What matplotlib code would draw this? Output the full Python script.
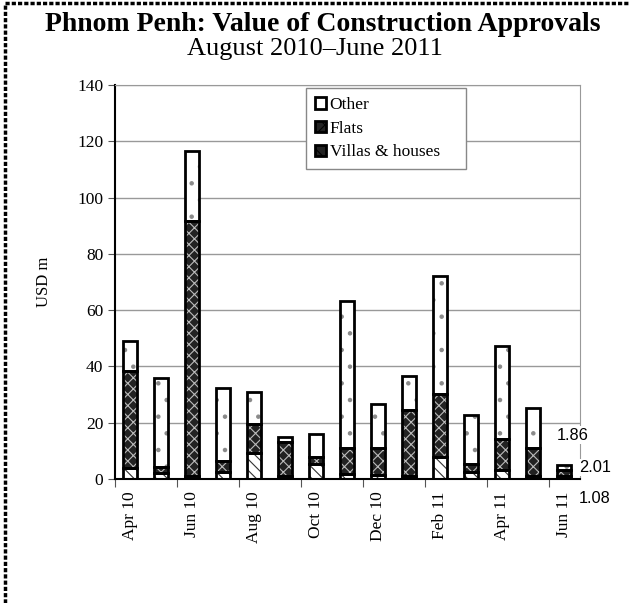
import numpy as np
import matplotlib.pyplot as plt
from matplotlib.patches import Patch
from matplotlib.lines import Line2D

# valores (USD m)
months = ["Apr 10", "May 10", "Jun 10", "Jul 10", "Aug 10", "Sep 10", "Oct 10", "Nov 10",
          "Dec 10", "Jan 11", "Feb 11", "Mar 11", "Apr 11", "May 11", "Jun 11"]
villas = [3.8, 2.0, 1.0, 2.6, 9.1, 1.0, 5.3, 1.8, 1.4, 1.2, 7.9, 2.6, 3.2, 1.2, 1.08]
flats = [34.6, 2.1, 90.8, 3.9, 10.6, 12.2, 2.4, 9.1, 9.5, 23.5, 22.2, 2.7, 11.0, 9.7, 2.01]
other = [10.6, 31.8, 24.9, 25.8, 11.2, 1.6, 8.3, 52.2, 15.9, 11.8, 41.9, 17.4, 33.0, 14.2, 1.86]
yticks = [0, 20, 40, 60, 80, 100, 120, 140]

plt.rcParams['font.family'] = ['Liberation Serif', 'DejaVu Serif']
plt.rcParams['hatch.linewidth'] = 0.8

fig = plt.figure(figsize=(6.3, 6.03), dpi=100)
ax = fig.add_axes([0.1825, 0.2056, 0.738, 0.6534])

x = np.arange(len(months))
w = 0.45
villas = np.array(villas)
flats = np.array(flats)
other = np.array(other)

# camadas com hachura (sem contorno) e depois contorno preto grosso por cima
ax.bar(x, villas, w, color='white', edgecolor='#333333', hatch='\\\\\\', lw=0, zorder=2)
ax.bar(x, flats, w, bottom=villas, color='#222222', edgecolor='#bbbbbb', hatch='xxx', lw=0, zorder=2)
ax.bar(x, other, w, bottom=villas + flats, color='white', edgecolor='#8a8a8a', hatch='.', lw=0, zorder=2)
for vals, bot in [(villas, 0), (flats, villas), (other, villas + flats)]:
    ax.bar(x, vals, w, bottom=bot, fill=False, edgecolor='black', lw=2, zorder=3)

ax.set_xlim(-0.5, len(months) - 0.5)
ax.set_ylim(0, 140)
ax.set_yticks(yticks)
ax.tick_params(axis='y', labelsize=12.5, length=5, direction='out', color='#555555')
ax.set_xticks(np.arange(-0.5, len(months), 2))
ax.set_xticklabels([])
ax.set_xticks(x[::2], minor=True)
ax.set_xticklabels(months[::2], minor=True, rotation=90)
ax.tick_params(axis='x', which='major', length=6, direction='out', color='#555555')
ax.tick_params(axis='x', which='minor', length=0, labelsize=12.5, pad=9)

ax.grid(axis='y', color='#999999', lw=1, zorder=0)
ax.set_axisbelow(True)
for s in ['top', 'right']:
    ax.spines[s].set_color('#999999')
ax.spines['left'].set_linewidth(1.5)
ax.spines['bottom'].set_linewidth(1.5)

ax.set_ylabel("USD m", fontsize=12, labelpad=18)

# rótulos da última barra
n = len(months) - 1
mids = [villas[n] / 2, villas[n] + flats[n] / 2, villas[n] + flats[n] + other[n] / 2]
vals = [villas[n], flats[n], other[n]]
offs = [(22, -15), (22, 4), (6, 23.5)]
for m, v, o in zip(mids, vals, offs):
    ax.annotate(f"{v:.2f}", xy=(n, m), xytext=o, textcoords='offset points',
                ha='center', va='center', fontsize=11.8, family=['Liberation Sans', 'DejaVu Sans'],
                annotation_clip=False, zorder=5,
                bbox=dict(facecolor='white', edgecolor='none', pad=1))

handles = [
    Patch(facecolor='white', edgecolor='black', lw=2, label='Other'),
    Patch(facecolor='#222222', edgecolor='black', lw=2, hatch='xx', label='Flats'),
    Patch(facecolor='#222222', edgecolor='black', lw=2, hatch='\\\\', label='Villas & houses'),
]
leg = ax.legend(handles=handles, loc='upper left', bbox_to_anchor=(0.411, 0.992, 0.344, 0.0),
                mode='expand', borderaxespad=0,
                fontsize=12.5, handlelength=0.65, handleheight=0.65, handletextpad=0.2,
                labelspacing=0.45, borderpad=0.5, fancybox=False, framealpha=1)
leg.get_frame().set_edgecolor('#888888')
leg.get_frame().set_linewidth(1)

fig.text(0.512, 0.96, "Phnom Penh: Value of Construction Approvals", ha='center', va='center',
         fontsize=20, fontweight='bold')
fig.text(0.50, 0.918, "August 2010\u2013June 2011", ha='center', va='center', fontsize=19)

# moldura tracejada (só topo e esquerda visíveis)
fig.add_artist(Line2D([0.008, 0.008], [0, 0.995], transform=fig.transFigure, color='black',
                      lw=2.5, ls=(0, (1.2, 0.6))))
fig.add_artist(Line2D([0.008, 1], [0.995, 0.995], transform=fig.transFigure, color='black',
                      lw=2.5, ls=(0, (1.2, 0.6))))

fig.savefig("out.png", dpi=100)
